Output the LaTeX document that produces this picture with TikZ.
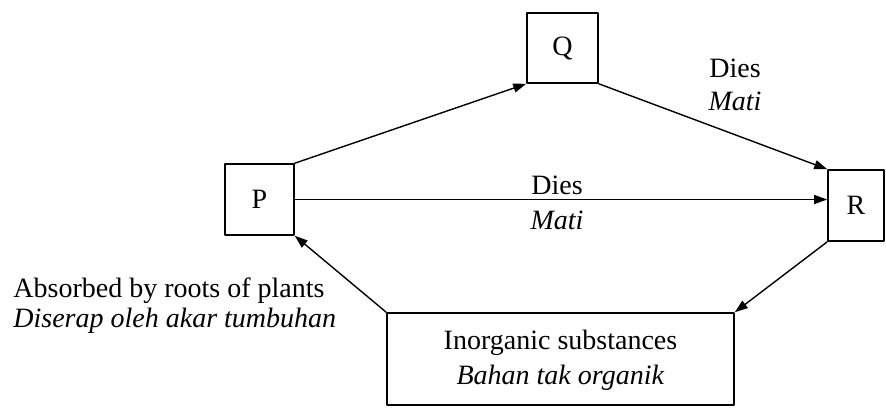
\documentclass[tikz,border=0pt]{standalone}
\usepackage{fontspec}
\setmainfont{Liberation Serif}
\usetikzlibrary{arrows.meta}
\begin{document}
\begin{tikzpicture}
% Nutrient cycle diagram, scanned-page units
\def\unitpx{0.5pt}
\providecommand{\cycLineWidth}{0.8pt}
\providecommand{\cycArrowWidth}{0.7pt}
\tikzset{
  cycbox/.style={draw, rectangle, inner sep=0pt, line width=\cycLineWidth},
  cycflow/.style={-{Triangle[length=6.5pt,width=4.5pt]}, line width=\cycArrowWidth},
  cyctext/.style={align=center, inner sep=0pt, font=\fontsize{14}{#1}\selectfont},
  cyctext/.default=17pt
}
\begin{scope}[x=\unitpx, y=-\unitpx, line cap=round, line join=round]
  % Page frame
  \useasboundingbox (0,0) rectangle (886,409);
  % Boxes
  \node[cycbox, cyctext, minimum width=34.5pt, minimum height=35.5pt] (P) at (259.5,199.5) {P};
  \node[cycbox, cyctext, minimum width=35.5pt, minimum height=35pt] (Q) at (562.5,48) {Q};
  \node[cycbox, cyctext, minimum width=28pt, minimum height=35.5pt] (R) at (856,205.5) {R};
  \node[cycbox, minimum width=173.5pt, minimum height=46pt] (inorg) at (560.5,359) {};
  % base anchor sits on the last line
  \node[cyctext=17.5pt, anchor=base] (inorgtext) at (560.5,384)
    {Inorganic substances\\\textit{Bahan tak organik}};
  % Arrows
  \draw[cycflow] (P.north east) -- (Q.south west);
  \draw[cycflow] (Q.south east) -- (R.north west);
  \draw[cycflow] (P.east) -- (P.east -| R.west);
  \draw[cycflow] (R.south west) -- (inorg.north east);
  \draw[cycflow] (inorg.north west) -- (P.south east);
  % Labels
  \node[cyctext=16.5pt, anchor=base] (diesQR) at (735,110) {Dies\\\textit{Mati}};
  \node[cyctext=17.5pt, anchor=base] (diesPR) at (557,229) {Dies\\\textit{Mati}};
  \node[cyctext=15pt, align=left, anchor=base west] (absorb) at (13,327)
    {Absorbed by roots of plants\\\textit{Diserap oleh akar tumbuhan}};
\end{scope}
\end{tikzpicture}
\end{document}
